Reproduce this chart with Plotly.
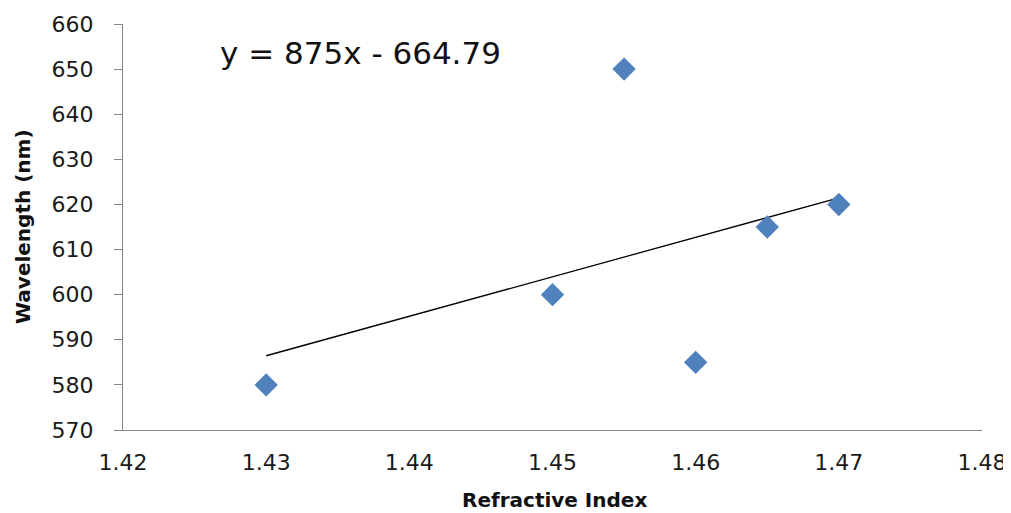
import plotly.graph_objects as go

refractive_index = [1.43, 1.45, 1.455, 1.46, 1.465, 1.47]
wavelength_nm = [580, 600, 650, 585, 615, 620]
slope = 875
intercept = -664.79
trend_x = [1.43, 1.47]
x_ticks = [1.42, 1.43, 1.44, 1.45, 1.46, 1.47, 1.48]
y_ticks = [570, 580, 590, 600, 610, 620, 630, 640, 650, 660]

trend_y = [slope * x + intercept for x in trend_x]

FONT = "DejaVu Sans"
OFF = 7  # page body offset compensation

L, R, T, B = 122, 981, 23, 429  # target plot area in screenshot pixels

fig = go.Figure()
fig.add_trace(go.Scatter(
    x=trend_x, y=trend_y, mode="lines",
    line=dict(color="#000000", width=1.3), showlegend=False, hoverinfo="skip"))
fig.add_trace(go.Scatter(
    x=refractive_index, y=wavelength_nm, mode="markers",
    marker=dict(symbol="diamond", size=18, color="#4F81BD", line=dict(width=0)),
    showlegend=False))

fig.update_layout(
    width=1011, height=513,
    margin=dict(l=L - OFF, r=1011 - R + OFF, t=T - OFF, b=513 - B + OFF, autoexpand=False),
    paper_bgcolor="white", plot_bgcolor="white",
    font=dict(family=FONT, color="#1a1a1a"),
    xaxis=dict(range=[1.42, 1.48], tickvals=x_ticks,
               ticktext=[f"{v:.2f}" for v in x_ticks],
               showgrid=False, zeroline=False, showline=True,
               linecolor="#868686", linewidth=1, ticks="",
               tickfont=dict(size=22, family=FONT, color="#1a1a1a"),
               ticklabelstandoff=13),
    yaxis=dict(range=[570, 660], tickvals=y_ticks,
               showgrid=False, zeroline=False, showline=True,
               linecolor="#868686", linewidth=1, ticks="outside",
               ticklen=8, tickcolor="#868686", tickwidth=1,
               tickfont=dict(size=22, family=FONT, color="#1a1a1a"),
               ticklabelstandoff=16),
    annotations=[
        dict(text="y = 875x - 664.79", xref="paper", yref="paper",
             x=(217 - L) / (R - L), y=(B - 52) / (B - T),
             xanchor="left", yanchor="middle", showarrow=False,
             font=dict(size=31, family=FONT, color="#111111")),
        dict(text="<b>Refractive Index</b>", xref="paper", yref="paper",
             x=(553 - L) / (R - L), y=-(499 - B) / (B - T),
             xanchor="center", yanchor="middle", showarrow=False,
             font=dict(size=20, family=FONT, color="#111111")),
        dict(text="<b>Wavelength (nm)</b>", xref="paper", yref="paper",
             x=-(L - 22) / (R - L), y=0.5, textangle=-90,
             xanchor="center", yanchor="middle", showarrow=False,
             font=dict(size=20, family=FONT, color="#111111")),
    ],
)

fig.write_html("out.html")
